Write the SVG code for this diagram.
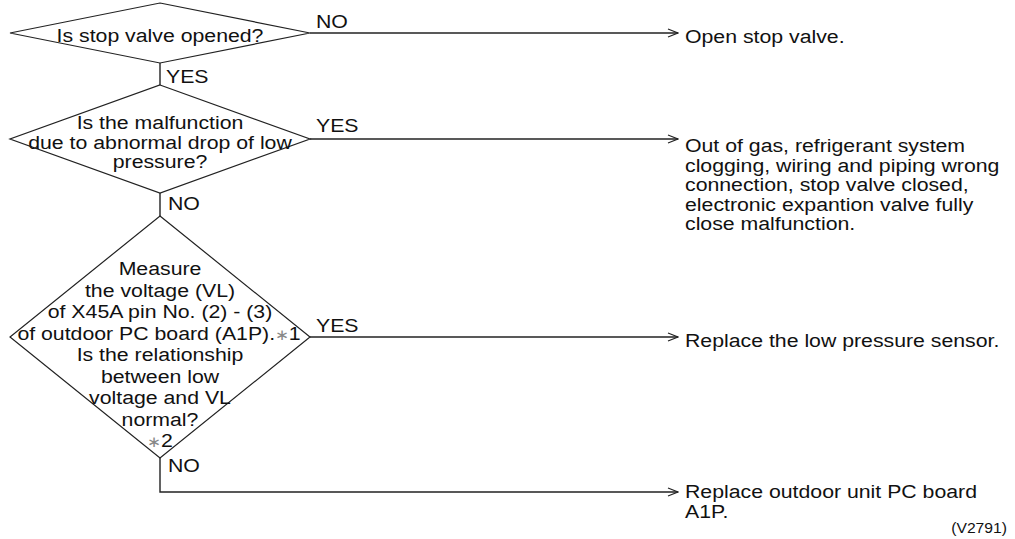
<svg xmlns="http://www.w3.org/2000/svg" width="1015" height="539" viewBox="0 0 1015 539">
<style>
.shape{fill:none;stroke:#222;stroke-width:1.2}
.conn{fill:none;stroke:#222;stroke-width:1.4}
.t{font-family:"Liberation Sans",Arial,sans-serif;font-size:19px;fill:#111}
.c{text-anchor:middle}
.ast{fill:#888;font-size:15px}
.small{font-size:14px}
</style>
<defs>
<marker id="arr" viewBox="0 0 12 10" refX="11" refY="5" markerWidth="12" markerHeight="10" markerUnits="userSpaceOnUse" orient="auto">
<path d="M1,1 L11,5 L1,9" fill="none" stroke="#222" stroke-width="1.2"/>
</marker>
</defs>
<rect width="1015" height="539" fill="#fff"/>
<g id="connectors">
<line class="conn" x1="310" y1="33" x2="678" y2="33" marker-end="url(#arr)"/>
<line class="conn" x1="160" y1="63" x2="160" y2="85"/>
<line class="conn" x1="310" y1="139" x2="678" y2="139" marker-end="url(#arr)"/>
<line class="conn" x1="160" y1="193" x2="160" y2="216"/>
<line class="conn" x1="310" y1="337" x2="678" y2="337" marker-end="url(#arr)"/>
<polyline class="conn" points="160,458 160,492 678,492" marker-end="url(#arr)"/>
<text class="t" transform="translate(316,28) scale(1.12,1)">NO</text>
<text class="t" transform="translate(166,83) scale(1.12,1)">YES</text>
<text class="t" transform="translate(316,132) scale(1.12,1)">YES</text>
<text class="t" transform="translate(168,210) scale(1.12,1)">NO</text>
<text class="t" transform="translate(316,332) scale(1.12,1)">YES</text>
<text class="t" transform="translate(168,472) scale(1.12,1)">NO</text>
</g>
<g id="d1">
<polygon class="shape" points="160,3 310,33 160,63 10,33"/>
<text class="t c" transform="translate(160,42) scale(1.12,1)">Is stop valve opened?</text>
</g>
<g id="d2">
<polygon class="shape" points="160,85 310,139 160,193 10,139"/>
<text class="t c" transform="translate(160,129) scale(1.12,1)">Is the malfunction</text>
<text class="t c" transform="translate(160,149) scale(1.12,1)">due to abnormal drop of low</text>
<text class="t c" transform="translate(160,168) scale(1.12,1)">pressure?</text>
</g>
<g id="d3">
<polygon class="shape" points="160,216 310,337 160,458 10,337"/>
<text class="t c" transform="translate(160,275) scale(1.12,1)">Measure</text>
<text class="t c" transform="translate(160,296.5) scale(1.12,1)">the voltage (VL)</text>
<text class="t c" transform="translate(160,318) scale(1.12,1)">of X45A pin No. (2) - (3)</text>
<text class="t c" transform="translate(159,339.5) scale(1.12,1)">of outdoor PC board (A1P).<tspan class="ast">∗</tspan>1</text>
<text class="t c" transform="translate(160,361) scale(1.12,1)">Is the relationship</text>
<text class="t c" transform="translate(160,382.5) scale(1.12,1)">between low</text>
<text class="t c" transform="translate(160,404) scale(1.12,1)">voltage and VL</text>
<text class="t c" transform="translate(160,425.5) scale(1.12,1)">normal?</text>
<text class="t c" transform="translate(160,447) scale(1.12,1)"><tspan class="ast">∗</tspan>2</text>
</g>
<g id="r1">
<text class="t" transform="translate(685,43) scale(1.12,1)">Open stop valve.</text>
</g>
<g id="r2">
<text class="t" transform="translate(685,152) scale(1.12,1)">Out of gas, refrigerant system</text>
<text class="t" transform="translate(685,171.5) scale(1.12,1)">clogging, wiring and piping wrong</text>
<text class="t" transform="translate(685,191) scale(1.12,1)">connection, stop valve closed,</text>
<text class="t" transform="translate(685,210.5) scale(1.12,1)">electronic expantion valve fully</text>
<text class="t" transform="translate(685,230) scale(1.12,1)">close malfunction.</text>
</g>
<g id="r3">
<text class="t" transform="translate(685,347) scale(1.12,1)">Replace the low pressure sensor.</text>
</g>
<g id="r4">
<text class="t" transform="translate(685,498) scale(1.12,1)">Replace outdoor unit PC board</text>
<text class="t" transform="translate(685,517.5) scale(1.12,1)">A1P.</text>
</g>
<text class="t small" text-anchor="end" transform="translate(1007,533) scale(1.12,1)">(V2791)</text>
</svg>
